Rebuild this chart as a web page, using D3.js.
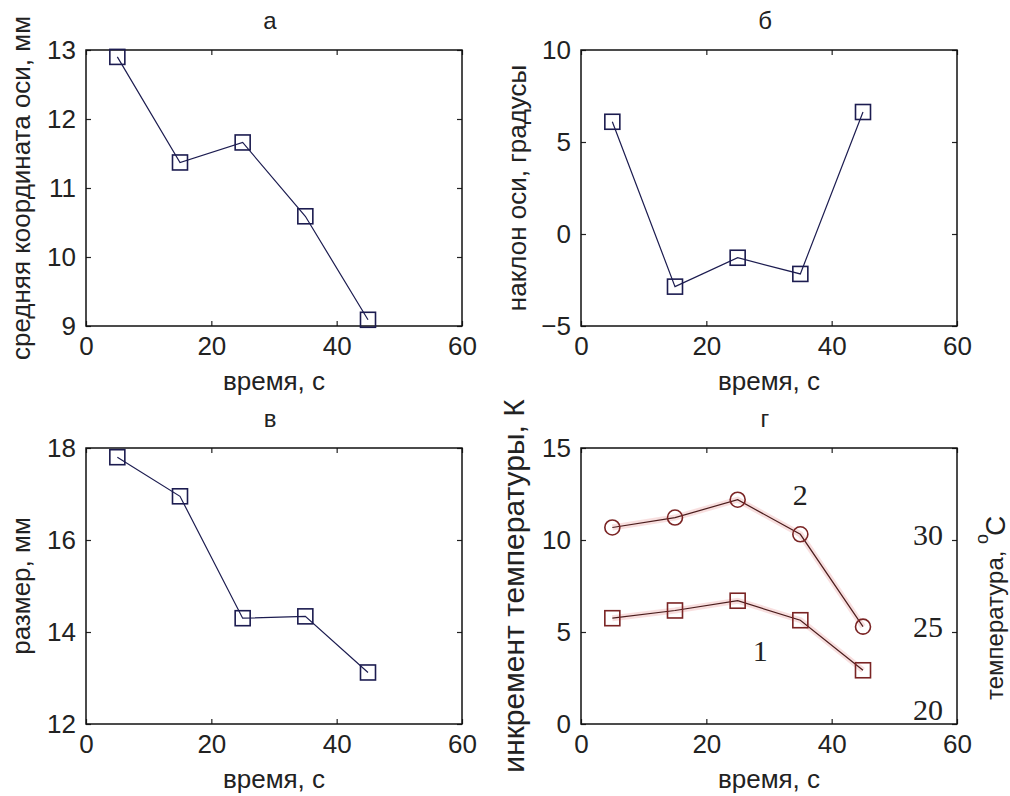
<!DOCTYPE html>
<html>
<head>
<meta charset="utf-8">
<script src="https://cdn.jsdelivr.net/npm/d3@7"></script>
<style>
    body { margin: 0; background: #fff; }
    svg { display: block; }
    text { font-family: "Liberation Sans", Arial, sans-serif; fill: #222; }
    .serif { font-family: "Liberation Serif", "Times New Roman", serif; }
</style>
</head>
<body>
<svg width="1010" height="796"></svg>
<script>
// data
const times = [5, 15, 25, 35, 45];
const coordA = [12.9, 11.37, 11.66, 10.59, 9.09];   // средняя координата оси, мм
const tiltB = [6.1, -2.86, -1.29, -2.17, 6.63];     // наклон оси, градусы
const sizeV = [17.8, 16.95, 14.3, 14.34, 13.12];    // размер, мм
const incr1 = [5.75, 6.17, 6.7, 5.64, 2.92];        // инкремент, кривая 1
const incr2 = [10.68, 11.22, 12.19, 10.31, 5.29];   // инкремент, кривая 2

const xTicks = [0, 20, 40, 60];
const yTicksA = [9, 10, 11, 12, 13];
const yTicksB = [-5, 0, 5, 10];
const yTicksV = [12, 14, 16, 18];
const yTicksG = [0, 5, 10, 15];
const tempTicks = [20, 25, 30];

const svg = d3.select("svg");
const W = 376, H = 276;
const navy = "#1c1c50";
const fmt = d3.format("~g");

var panels = [
    { left: 86, top: 50, title: "а", yDomain: [9, 13], yTicks: yTicksA,
      yLabel: "средняя координата оси, мм", yLabelX: 30, yLabelSize: 26,
      series: [{ values: coordA, marker: "square" }] },
    { left: 581, top: 50, title: "б", yDomain: [-5, 10], yTicks: yTicksB,
      yLabel: "наклон оси, градусы", yLabelX: 526, yLabelSize: 26,
      series: [{ values: tiltB, marker: "square" }] },
    { left: 86, top: 448, title: "в", yDomain: [12, 18], yTicks: yTicksV,
      yLabel: "размер, мм", yLabelX: 30, yLabelSize: 26,
      series: [{ values: sizeV, marker: "square" }] },
    { left: 581, top: 448, title: "г", yDomain: [0, 15], yTicks: yTicksG,
      yLabel: "инкремент температуры, К", yLabelX: 524, yLabelSize: 30, red: true,
      series: [{ values: incr1, marker: "square" }, { values: incr2, marker: "circle" }] },
];

panels.forEach(drawPanel);

function drawPanel(p) {
    const g = svg.append("g").attr("transform", `translate(${p.left},${p.top})`);
    const x = d3.scaleLinear().domain([0, 60]).range([0, W]);
    const y = d3.scaleLinear().domain(p.yDomain).range([H, 0]);

    // axes with inward ticks, mirrored on top/right
    g.append("g").attr("class", "axis")
        .attr("transform", `translate(0,${H})`)
        .call(d3.axisBottom(x).tickValues(xTicks).tickFormat(fmt).tickSize(-5).tickSizeOuter(0).tickPadding(11));
    g.append("g").attr("class", "axis")
        .call(d3.axisTop(x).tickValues(xTicks).tickSize(-5).tickSizeOuter(0).tickFormat(""));
    g.append("g").attr("class", "axis")
        .call(d3.axisLeft(y).tickValues(p.yTicks).tickFormat(fmt).tickSize(-5).tickSizeOuter(0).tickPadding(10));
    g.append("g").attr("class", "axis")
        .attr("transform", `translate(${W},0)`)
        .call(d3.axisRight(y).tickValues(p.yTicks).tickSize(-5).tickSizeOuter(0).tickFormat(""));
    g.selectAll(".domain").remove();
    g.selectAll(".axis").attr("font-size", null).attr("font-family", null);
    g.selectAll(".tick line").attr("stroke", "#222").attr("stroke-width", 1.2);
    g.selectAll(".tick text").style("font-size", "26px").attr("fill", "#333");

    g.append("rect")
        .attr("width", W).attr("height", H)
        .attr("fill", "none").attr("stroke", "#111").attr("stroke-width", 1.5);

    // titles
    g.append("text").attr("x", W / 2 - 4).attr("y", -21)
        .attr("text-anchor", "middle").style("font-size", "24px").text(p.title);
    g.append("text").attr("x", W / 2).attr("y", H + 64)
        .attr("text-anchor", "middle").style("font-size", "26px").text("время, с");
    g.append("text")
        .attr("transform", `translate(${p.yLabelX - p.left},${H / 2}) rotate(-90)`)
        .attr("text-anchor", "middle").style("font-size", p.yLabelSize + "px").text(p.yLabel);

    const line = d3.line().x((d, i) => x(times[i])).y((d) => y(d));
    const lineColor = p.red ? "#4a1c1c" : navy;
    const markColor = p.red ? "#7a2424" : navy;

    p.series.forEach((s) => {
        if (p.red) {
            g.append("path").datum(s.values).attr("d", line)
                .attr("fill", "none").attr("stroke", "#f3c4c4")
                .attr("stroke-width", 6).attr("opacity", 0.55);
        }
        g.append("path").datum(s.values).attr("d", line)
            .attr("fill", "none").attr("stroke", lineColor).attr("stroke-width", 1.2);

        if (s.marker == "square") {
            g.selectAll(null).data(s.values).enter().append("rect")
                .attr("x", (d, i) => x(times[i]) - 7.5)
                .attr("y", (d) => y(d) - 7.5)
                .attr("width", 15).attr("height", 15)
                .attr("fill", "none").attr("stroke", markColor).attr("stroke-width", 1.6);
        } else {
            g.selectAll(null).data(s.values).enter().append("circle")
                .attr("cx", (d, i) => x(times[i]))
                .attr("cy", (d) => y(d))
                .attr("r", 7.5)
                .attr("fill", "none").attr("stroke", markColor).attr("stroke-width", 1.6);
        }
    });

    if (p.red) {
        // second scale: температура, °C
        const yT = d3.scaleLinear().domain([20, 35]).range([H, 0]);
        g.selectAll(null).data(tempTicks).enter().append("text")
            .attr("class", "serif")
            .attr("x", W - 14)
            .attr("y", (d) => Math.min(yT(d) - 6, H - 15))
            .attr("dy", "0.35em")
            .attr("text-anchor", "end")
            .style("font-size", "30px")
            .text((d) => d);

        const rt = g.append("text")
            .attr("transform", `translate(${1003 - p.left},${700 - p.top}) rotate(-90)`)
            .style("font-size", "24px");
        rt.append("tspan").text("температура, ");
        rt.append("tspan").attr("dy", -15).style("font-size", "18px").text("o");
        rt.append("tspan").attr("dy", 17).attr("dx", -2).style("font-size", "28px").text("C");

        // curve numbers
        g.append("text").attr("class", "serif")
            .attr("x", x(35)).attr("y", y(12.45)).attr("dy", "0.35em")
            .attr("text-anchor", "middle").style("font-size", "30px").text("2");
        g.append("text").attr("class", "serif")
            .attr("x", x(28.6)).attr("y", y(4.02)).attr("dy", "0.35em")
            .attr("text-anchor", "middle").style("font-size", "30px").text("1");
    }
}
</script>
</body>
</html>
